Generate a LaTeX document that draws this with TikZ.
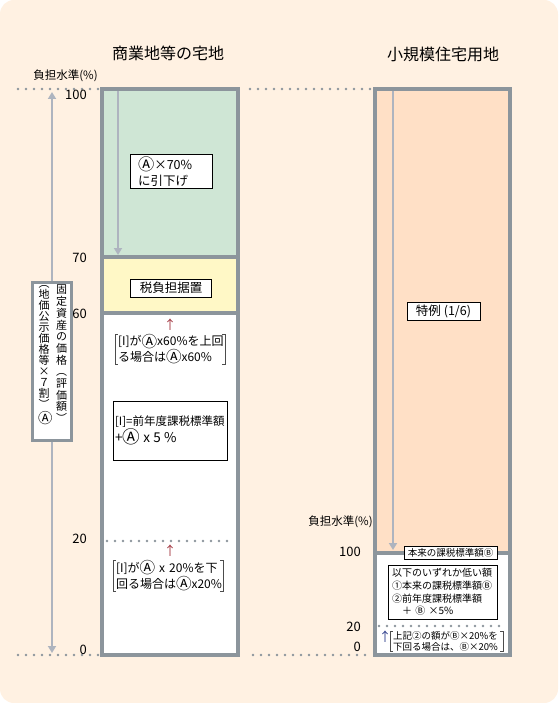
\documentclass[tikz,border=0pt]{standalone}
\usepackage{fontspec}
\setmainfont{Noto Sans CJK JP}
\usetikzlibrary{arrows.meta, positioning, calc}

\definecolor{cream}{HTML}{FFF1E2}
\definecolor{framegray}{HTML}{8C959C}
\definecolor{arrowgray}{HTML}{AEB4BF}
\definecolor{mint}{HTML}{CFE6D5}
\definecolor{butter}{HTML}{FFF8C6}
\definecolor{peach}{HTML}{FFE0C6}
\definecolor{pointred}{HTML}{A0303A}
\definecolor{pointblue}{HTML}{2A3A8A}

\newcommand{\fsz}[2]{\fontsize{#1}{#2}\selectfont}
\newcommand{\cA}{\raisebox{-0.1em}{\scalebox{1.3}{Ⓐ}}}

\begin{document}
\begin{tikzpicture}[x=1pt, y=-1pt,
    colframe/.style={draw=framegray, line width=4pt},
    sepline/.style={draw=framegray, line width=4pt},
    dotrow/.style={draw=framegray, line width=2.8pt, line cap=round, dash pattern=on 0pt off 8pt},
    levelarrow/.style={draw=arrowgray, line width=2.5pt, -{Triangle[length=7pt, width=8pt]}},
    title/.style={font=\fsz{16}{18}},
    axislabel/.style={font=\fsz{11.5}{13}, inner sep=0pt},
    tick/.style={font=\fsz{13}{13}, anchor=east, inner sep=1pt},
    note/.style={draw, fill=white, line width=0.9pt, inner sep=0pt, align=left},
    brtext/.style={inner sep=0pt, align=left},
    brk/.style={draw=black!70, line width=0.5pt},
    pointer/.style={font=\fsz{12.5}{12.5}, inner sep=0pt},
    vcol/.style={inner sep=0pt, align=center, text width=12pt},
]
    \useasboundingbox (0,0) rectangle (558,703);
    \fill[cream, rounded corners=14pt] (0,0) rectangle (558,703);

    % column fills
    \fill[mint] (102,89) rectangle (237.5,257);
    \fill[butter] (102,257) rectangle (237.5,313);
    \fill[white] (102,313) rectangle (237.5,655);
    \fill[peach] (374.5,89) rectangle (509.5,552.5);
    \fill[white] (374.5,552.5) rectangle (509.5,655);

    % level arrows
    \coordinate (ltop) at (118,91);
    \coordinate (lbot) at (118,255);
    \coordinate (rtop) at (393,91);
    \coordinate (rbot) at (393,550);
    \draw[levelarrow] (ltop) -- (lbot);
    \draw[levelarrow] (rtop) -- (rbot);

    \draw[sepline] (102,257) -- (237.5,257);
    \draw[sepline] (102,313) -- (237.5,313);
    \draw[sepline] (374.5,552.5) -- (509.5,552.5);
    \draw[colframe] (102,89) rectangle (237.5,655);
    \draw[colframe] (374.5,89) rectangle (509.5,655);

    % dotted levels
    \draw[dotrow] (18,89) -- (98,89);
    \draw[dotrow] (250,89) -- (370,89);
    \draw[dotrow] (18,655) -- (98,655);
    \draw[dotrow] (253,655) -- (370,655);
    \draw[dotrow] (107,541) -- (233,541);
    \draw[dotrow] (379,626) -- (504,626);

    % titles and scales
    \node[title] (ttlcom) at (168,53) {商業地等の宅地};
    \node[title] (ttlres) at (443,54) {小規模住宅用地};
    \node[axislabel] (lvlcom) at (65.5,76) {負担水準(\%)};
    \node[axislabel] (lvlres) at (340.5,522) {負担水準(\%)};
    \node[tick] (c100) at (88,95) {100};
    \node[tick] (c70) at (88,258) {70};
    \node[tick] (c60) at (88,314) {60};
    \node[tick] (c20) at (88,539) {20};
    \node[tick] (c0) at (88,650) {0};
    \node[tick] (r100) at (362,552) {100};
    \node[tick] (r20) at (362,627) {20};
    \node[tick] (r0) at (362,647) {0};

    % assessed value box on the axis
    \node[draw=framegray, line width=3pt, fill=white, minimum width=39pt, minimum height=158pt, inner sep=0pt] (fixbox) at (52,361) {};
    \node[vcol, anchor=north, font=\fsz{11}{11.7}] (vright) at (61.5,285) {固\\定\\資\\産\\の\\価\\格\\︵\\評\\価\\額\\︶};
    \node[vcol, anchor=north, font=\fsz{11}{11}] (vleft) at (44,285) {︵\\地\\価\\公\\示\\価\\格\\等\\×\\７\\割\\︶\\[3pt]\cA};
    \coordinate (axtop) at (52,92);
    \coordinate (axbot) at (52,653);
    \draw[levelarrow] (fixbox.north) -- (axtop);
    \draw[levelarrow] (fixbox.south) -- (axbot);

    % commercial land
    \node[note, font=\fsz{12.5}{16}, minimum width=82pt, minimum height=34pt, text width=66pt] (cut70) at (171,171.5) {\cA×70\%\\に引下げ};
    \node[note, font=\fsz{12.5}{14}, minimum width=81pt, minimum height=18pt, align=center] (hold) at (171,288) {税負担据置};
    \node[pointer, text=pointred] (arr60) at (170,325) {↑};
    \node[brtext, font=\fsz{12}{14.5}, minimum width=110pt, minimum height=28pt, text width=104pt] (up60) at (170,349) {[I]が\cA x60\%を上回\\る場合は\cA x60\%};
    \node[note, minimum width=114pt, minimum height=59pt, text width=110pt] (prev5) at (170,430.5) {\fsz{11.5}{18}[I]=前年度課税標準額\\{\fsz{13.5}{18}+\cA\ x 5 \%}};
    \node[pointer, text=pointred] (arr20) at (170,551) {↑};
    \node[brtext, font=\fsz{12}{14}, minimum width=110pt, minimum height=31pt, text width=104pt] (down20) at (168,575.5) {[I]が\cA\ x 20\%を下\\回る場合は\cA x20\%};

    % small residential land
    \node[note, font=\fsz{12.5}{14}, minimum width=73pt, minimum height=18pt, align=center] (spec) at (443.5,311) {特例 (1/6)};
    \node[note, font=\fsz{9.5}{11}, minimum width=93pt, minimum height=12.5pt, align=center] (orig) at (450.5,553) {本来の課税標準額Ⓑ};
    \node[note, font=\fsz{10}{12.7}, minimum width=109pt, minimum height=54pt, text width=101pt] (lower) at (442.5,592) {以下のいずれか低い額\\①本来の課税標準額Ⓑ\\②前年度課税標準額\\\hspace*{10pt}＋ Ⓑ ×5\%};
    \node[pointer, text=pointblue] (arrb20) at (385,637) {↑};
    \node[brtext, font=\fsz{9.5}{10.3}, minimum width=113pt, minimum height=20pt, text width=107pt] (min20) at (446.5,641.5) {上記②の額がⒷ×20\%を\\下回る場合は、Ⓑ×20\%};

    \foreach \b in {up60, down20, min20} {
        \draw[brk] ([xshift=3pt]\b.north west) -- (\b.north west) -- (\b.south west) -- ([xshift=3pt]\b.south west);
        \draw[brk] ([xshift=-3pt]\b.north east) -- (\b.north east) -- (\b.south east) -- ([xshift=-3pt]\b.south east);
    }
\end{tikzpicture}
\end{document}
